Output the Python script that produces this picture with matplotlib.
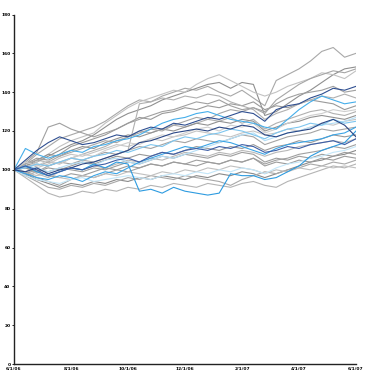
import matplotlib
matplotlib.use("Agg")
import matplotlib.pyplot as plt

x_ticks = [0, 5, 10, 15, 20, 25, 30]
x_labels = ["6/1/06", "8/1/06", "10/1/06", "12/1/06", "2/1/07", "4/1/07", "6/1/07"]
y_ticks = [0, 20, 40, 60, 80, 100, 120, 140, 160, 180]

gray_series = {
    "G1": [100, 103, 108, 112, 116, 118, 120, 122, 125, 129, 133, 136, 135, 138, 140, 142, 141, 143, 140, 138, 141, 137, 133, 146, 149, 152, 156, 161, 163, 158, 160],
    "G2": [100, 102, 104, 107, 110, 113, 115, 118, 122, 126, 129, 131, 133, 136, 138, 140, 142, 144, 145, 142, 145, 144, 128, 130, 134, 138, 141, 145, 149, 152, 153],
    "G3": [100, 101, 104, 108, 112, 115, 117, 119, 124, 128, 132, 135, 137, 139, 141, 140, 144, 147, 149, 146, 143, 140, 138, 140, 143, 145, 147, 150, 149, 147, 151],
    "G4": [100, 104, 109, 122, 124, 121, 119, 117, 119, 121, 124, 126, 128, 130, 131, 133, 135, 134, 136, 133, 131, 132, 130, 134, 137, 139, 140, 141, 143, 140, 141],
    "G5": [100, 103, 106, 105, 108, 112, 114, 116, 118, 121, 124, 127, 126, 129, 130, 132, 131, 133, 132, 134, 133, 135, 131, 133, 132, 134, 136, 135, 134, 131, 133],
    "G6": [100, 99, 102, 104, 103, 106, 108, 110, 112, 115, 117, 120, 119, 121, 123, 122, 124, 126, 125, 127, 124, 126, 121, 124, 126, 128, 130, 131, 129, 128, 130],
    "G7": [100, 98, 101, 103, 106, 108, 107, 109, 111, 113, 112, 114, 116, 115, 117, 118, 120, 119, 118, 117, 119, 120, 118, 119, 121, 120, 122, 124, 123, 125, 126],
    "G8": [100, 101, 99, 102, 104, 103, 105, 107, 109, 108, 110, 112, 111, 113, 115, 114, 116, 115, 114, 116, 118, 117, 113, 115, 117, 118, 119, 121, 120, 121, 122],
    "G9": [100, 97, 99, 101, 100, 102, 104, 103, 105, 107, 106, 108, 107, 109, 108, 110, 112, 111, 110, 112, 111, 113, 110, 112, 113, 115, 114, 116, 118, 117, 118],
    "G10": [100, 102, 98, 96, 99, 101, 100, 102, 101, 103, 105, 104, 106, 105, 107, 109, 108, 107, 109, 108, 110, 109, 107, 109, 110, 112, 113, 114, 115, 114, 116],
    "G11": [100, 99, 96, 94, 92, 95, 97, 96, 98, 100, 99, 101, 103, 102, 104, 103, 105, 104, 103, 105, 104, 106, 103, 105, 106, 108, 109, 110, 112, 111, 113],
    "G12": [100, 98, 95, 93, 91, 93, 92, 94, 93, 95, 94, 96, 95, 97, 96, 95, 97, 96, 98, 97, 99, 98, 96, 98, 100, 102, 104, 105, 107, 108, 110],
    "G13": [100, 96, 92, 88, 86, 87, 89, 88, 90, 89, 91, 90, 92, 91, 93, 92, 91, 93, 92, 91, 93, 94, 92, 91, 94, 96, 98, 100, 102, 101, 103],
    "G14": [100, 97, 94, 91, 90, 92, 91, 93, 92, 94, 96, 95, 97, 96, 95, 97, 96, 95, 94, 92, 95, 97, 99, 98, 100, 101, 103, 102, 104, 103, 105],
    "G15": [100, 101, 99, 97, 96, 98, 97, 99, 101, 100, 102, 101, 103, 102, 104, 103, 102, 104, 103, 105, 104, 106, 102, 104, 103, 105, 104, 106, 105, 107, 106],
    "G16": [100, 99, 97, 98, 96, 95, 97, 96, 98, 97, 99, 98, 97, 99, 98, 100, 99, 101, 100, 102, 101, 100, 98, 100, 99, 101, 100, 102, 101, 102, 101],
    "G17": [100, 102, 105, 108, 107, 110, 112, 111, 114, 116, 118, 117, 119, 121, 120, 122, 124, 123, 125, 124, 126, 125, 120, 122, 124, 125, 127, 128, 127, 126, 128],
    "G18": [100, 101, 103, 102, 104, 106, 105, 104, 106, 108, 110, 134, 135, 137, 136, 138, 137, 139, 138, 135, 133, 131, 126, 129, 131, 134, 136, 138, 137, 139, 137],
    "G19": [100, 103, 105, 104, 107, 109, 111, 113, 115, 114, 117, 119, 121, 120, 123, 125, 127, 126, 129, 131, 130, 132, 129, 136, 140, 144, 147, 149, 151, 150, 152],
    "G20": [100, 104, 102, 105, 103, 106, 108, 107, 110, 112, 114, 113, 116, 118, 117, 119, 121, 122, 120, 123, 122, 124, 119, 121, 124, 126, 128, 129, 131, 130, 131],
    "G21": [100, 98, 100, 99, 101, 100, 99, 101, 100, 102, 104, 103, 105, 107, 106, 108, 107, 106, 108, 107, 109, 108, 104, 106, 105, 107, 106, 108, 107, 109, 108],
}
gray_colors = {
    "G1": "#a8a8a8", "G2": "#8f8f8f", "G3": "#c2c2c2", "G4": "#a0a0a0", "G5": "#9a9a9a",
    "G6": "#b0b0b0", "G7": "#c4c4c4", "G8": "#a4a4a4", "G9": "#999999", "G10": "#b8b8b8",
    "G11": "#a0a0a0", "G12": "#8a8a8a", "G13": "#b4b4b4", "G14": "#a8a8a8", "G15": "#9c9c9c",
    "G16": "#c0c0c0", "G17": "#929292", "G18": "#b0b0b0", "G19": "#a6a6a6", "G20": "#cfcfcf",
    "G21": "#9e9e9e",
}

blue_series = {
    "L1": [100, 97, 95, 94, 93, 95, 96, 94, 95, 96, 97, 96, 95, 97, 98, 97, 99, 98, 100, 99, 101, 100, 98, 101, 103, 104, 106, 107, 109, 110, 112],
    "L2": [100, 102, 101, 99, 101, 103, 104, 102, 105, 106, 104, 103, 105, 107, 106, 108, 110, 112, 114, 116, 118, 119, 115, 117, 119, 120, 122, 123, 124, 125, 127],
    "L3": [100, 101, 103, 102, 104, 106, 105, 107, 108, 110, 109, 111, 113, 112, 115, 117, 116, 118, 119, 121, 120, 118, 116, 119, 121, 122, 124, 123, 126, 124, 125],
    "B1": [100, 102, 99, 97, 99, 101, 100, 103, 101, 104, 103, 89, 90, 88, 91, 89, 88, 87, 88, 98, 97, 97, 95, 96, 99, 102, 107, 110, 112, 114, 120],
    "B2": [100, 111, 108, 106, 108, 110, 109, 112, 113, 115, 116, 118, 121, 124, 126, 127, 129, 130, 128, 126, 125, 124, 122, 121, 126, 131, 135, 138, 136, 134, 135],
    "B3": [100, 98, 96, 95, 97, 96, 94, 97, 99, 98, 101, 104, 106, 108, 110, 112, 111, 113, 115, 114, 112, 110, 108, 111, 113, 114, 115, 116, 118, 119, 122],
    "D1": [100, 105, 110, 114, 117, 115, 113, 114, 116, 118, 117, 120, 122, 121, 124, 123, 125, 127, 126, 128, 130, 129, 125, 131, 133, 134, 137, 139, 142, 141, 143],
    "D2": [100, 99, 101, 98, 100, 101, 103, 104, 106, 108, 110, 114, 115, 117, 119, 120, 121, 120, 122, 121, 123, 122, 118, 117, 119, 120, 121, 124, 126, 123, 117],
    "D3": [100, 102, 100, 97, 99, 101, 100, 102, 103, 105, 106, 104, 107, 109, 108, 110, 111, 110, 112, 111, 113, 112, 109, 110, 112, 111, 113, 114, 115, 113, 116],
}
blue_colors = {
    "L1": "#c4e6f8", "L2": "#b4def6", "L3": "#7ec6ef",
    "B1": "#2d9be0", "B2": "#45aeea", "B3": "#3aa4e6",
    "D1": "#2f4f91", "D2": "#2a4786", "D3": "#3d5ea6",
}

fig = plt.figure(figsize=(3.69, 3.86), dpi=100)
ax = fig.add_axes([14 / 369, 22 / 386, 342 / 369, 349.5 / 386])

for name, vals in gray_series.items():
    ax.plot(range(len(vals)), vals, color=gray_colors[name], lw=0.8)
for name, vals in blue_series.items():
    ax.plot(range(len(vals)), vals, color=blue_colors[name], lw=0.8)

ax.set_xlim(0, 30)
ax.set_ylim(0, 180)
ax.set_xticks(x_ticks)
ax.set_xticklabels(x_labels)
ax.set_yticks(y_ticks)
for s in ("top", "right"):
    ax.spines[s].set_visible(False)
for s in ("left", "bottom"):
    ax.spines[s].set_linewidth(1.0)
    ax.spines[s].set_color("#222222")
ax.tick_params(axis="y", length=1.5, width=0.6, pad=1, labelsize=3.2)
ax.tick_params(axis="x", length=0, pad=2, labelsize=3.2)
for lab in ax.get_xticklabels() + ax.get_yticklabels():
    lab.set_fontweight("bold")

fig.savefig("out.png", dpi=100)
